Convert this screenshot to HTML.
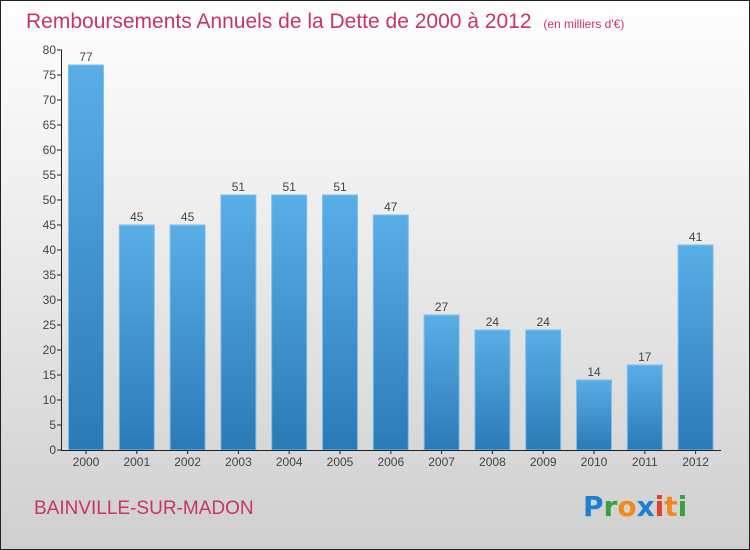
<!DOCTYPE html>
<html><head><meta charset="utf-8"><style>
body{margin:0}
#c{width:750px;height:550px;position:relative;box-sizing:border-box;border:1px solid #222;background:linear-gradient(#fefefe,#f2f2f2 30%,#cfcfcf);font-family:"Liberation Sans",sans-serif;overflow:hidden}
</style></head><body>
<div id="c">
<svg width="750" height="550" style="position:absolute;left:-1px;top:-1px" id="svg">
<defs><linearGradient id="bg" x1="0" y1="0" x2="0" y2="1"><stop offset="0" stop-color="#5aaee6"/><stop offset="1" stop-color="#2a7ab8"/></linearGradient></defs>
<text x="26" y="28" font-size="21" fill="#c8336a">Remboursements Annuels de la Dette de 2000 à 2012 <tspan font-size="12" dx="6">(en milliers d'€)</tspan></text>
<text x="34" y="514" font-size="19" fill="#c8336a">BAINVILLE-SUR-MADON</text>
<g font-size="28" font-weight="bold" font-family="'DejaVu Sans',sans-serif">
<text x="583" y="516"><tspan fill="#1f7fd0">P</tspan><tspan fill="#3aa043">r</tspan><tspan fill="#f08a1c">o</tspan><tspan fill="#1f7fd0">x</tspan><tspan fill="#e53d2a">i</tspan><tspan fill="#f08a1c">t</tspan><tspan fill="#3aa043">i</tspan></text></g>
<g id="g"></g>
</svg>
<script>
const categories=["2000","2001","2002","2003","2004","2005","2006","2007","2008","2009","2010","2011","2012"];
const values=[77,45,45,51,51,51,47,27,24,24,14,17,41];
const ticks=[0,5,10,15,20,25,30,35,40,45,50,55,60,65,70,75,80];
const ns="http://www.w3.org/2000/svg",g=document.getElementById('g');
const y=v=>450-v*5, x=i=>86+i*50.8;
function mk(t,a,txt){const e=document.createElementNS(ns,t);for(const k in a)e.setAttribute(k,a[k]);if(txt!=null)e.textContent=txt;g.appendChild(e);return e;}
values.forEach((v,i)=>{
 const r=mk('rect',{x:x(i)-17.5,y:y(v),width:35,height:v*5,fill:'url(#bg)',stroke:'#7cc0ee','stroke-width':1});
 
 
 const t=mk('text',{x:x(i),y:y(v)-4,'font-size':12,fill:'#444','text-anchor':'middle'},String(v));
 
 
 const c=mk('text',{x:x(i),y:466,'font-size':12,fill:'#444','text-anchor':'middle'},categories[i]);
 
 
 mk('line',{x1:x(i),x2:x(i),y1:450,y2:454,stroke:'#222'});
});
ticks.forEach(v=>{
 mk('line',{x1:57,x2:62,y1:y(v),y2:y(v),stroke:'#222'});
 const t=mk('text',{x:56,y:y(v)+4,'font-size':12,fill:'#444','text-anchor':'end'},String(v));
 
 
});
const ya=mk('line',{x1:61.5,x2:61.5,y1:50,y2:450,stroke:'#222'});


const xa=mk('line',{x1:61,x2:721,y1:450.5,y2:450.5,stroke:'#222'});


</script>
</div></body></html>
